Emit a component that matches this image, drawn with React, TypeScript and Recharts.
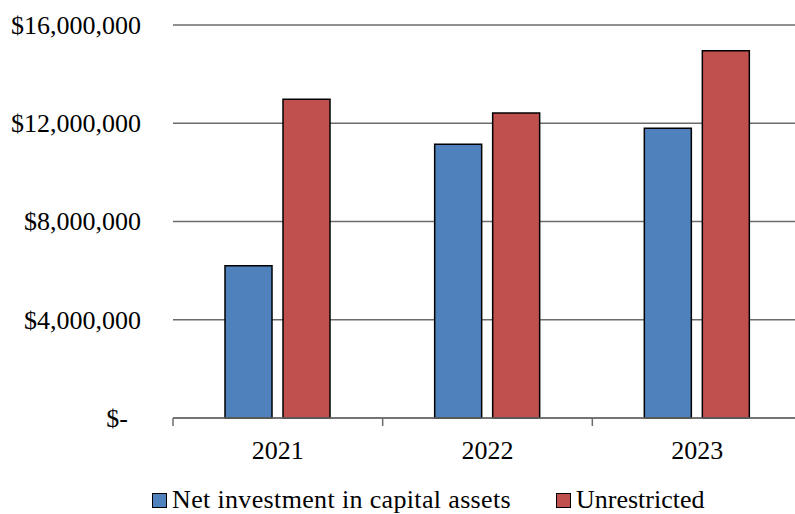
import React from 'react';
import { BarChart, Bar, XAxis, YAxis, CartesianGrid, Legend } from 'recharts';

const years = ['2021', '2022', '2023'];
const netInvestment = [6200000, 11150000, 11800000];
const unrestricted = [12980000, 12420000, 14950000];
const yTicks = [0, 4000000, 8000000, 12000000, 16000000];

const seriesNames = ['Net investment in capital assets', 'Unrestricted'];
const BLUE = '#4F81BD';
const RED = '#C0504D';
const GRID = '#6b6b6b';
const FONT = 'Liberation Serif';

const data = years.map((year, i) => ({
  year,
  net: netInvestment[i],
  unrestricted: unrestricted[i],
}));

const fmtMoney = (v: number) =>
  v === 0 ? '$-' : '$' + v.toLocaleString('en-US');

const YTick = (props: any) => {
  const { x, y, payload } = props;
  const shift = payload.value === 0 ? -13 : 0;
  return (
    <text x={x + shift} y={y} dy="0.34em" textAnchor="end" fontSize={26} fontFamily={FONT} fill="#000">
      {fmtMoney(payload.value)}
    </text>
  );
};

const XTick = (props: any) => {
  const { x, y, payload } = props;
  const half = payload.offset || 0;
  return (
    <g>
      <line x1={x - half} x2={x - half} y1={y} y2={y + 8} stroke={GRID} strokeWidth={1.5} />
      <text x={x} y={y + 41} textAnchor="middle" fontSize={26} fontFamily={FONT} fill="#000">
        {payload.value}
      </text>
    </g>
  );
};

const LegendContent = () => (
  <div
    style={{
      display: 'flex',
      alignItems: 'center',
      boxSizing: 'border-box',
      paddingLeft: 152,
      paddingTop: 22,
      height: 50,
      fontFamily: "'Liberation Serif'",
      fontSize: 26,
      color: '#000',
      lineHeight: 1,
    }}
  >
    {seriesNames.map((name, i) => (
      <div key={name} style={{ display: 'flex', alignItems: 'center', marginRight: 45 }}>
        <span
          style={{
            display: 'inline-block',
            width: 13,
            height: 13,
            background: i === 0 ? BLUE : RED,
            border: '1.5px solid #000',
            marginRight: 5,
          }}
        />
        <span style={{ letterSpacing: i === 0 ? 0.35 : 0 }}>{name}</span>
      </div>
    ))}
  </div>
);

export default function App() {
  return (
    <div style={{ position: 'absolute', left: 0, top: 0, width: 795, height: 514, overflow: 'hidden', background: '#fff' }}>
      <BarChart
        width={802}
        height={514}
        data={data}
        margin={{ top: 25, right: 0, bottom: 0, left: 0 }}
        barSize={47}
        barGap={11}
      >
        <CartesianGrid vertical={false} stroke={GRID} strokeWidth={1.5} />
        <XAxis
          dataKey="year"
          axisLine={{ stroke: GRID, strokeWidth: 1.5 }}
          tickLine={false}
          tickSize={0}
          tickMargin={0}
          height={46}
          tick={<XTick />}
          interval={0}
        />
        <YAxis
          domain={[0, 16000000]}
          ticks={yTicks}
          axisLine={false}
          tickLine={false}
          tickSize={0}
          tickMargin={32}
          width={173}
          tick={<YTick />}
          interval={0}
        />
        <Legend verticalAlign="bottom" height={50} content={<LegendContent />} />
        <Bar dataKey="net" name={seriesNames[0]} fill={BLUE} stroke="#000" strokeWidth={1.5} isAnimationActive={false} />
        <Bar dataKey="unrestricted" name={seriesNames[1]} fill={RED} stroke="#000" strokeWidth={1.5} isAnimationActive={false} />
      </BarChart>
    </div>
  );
}
